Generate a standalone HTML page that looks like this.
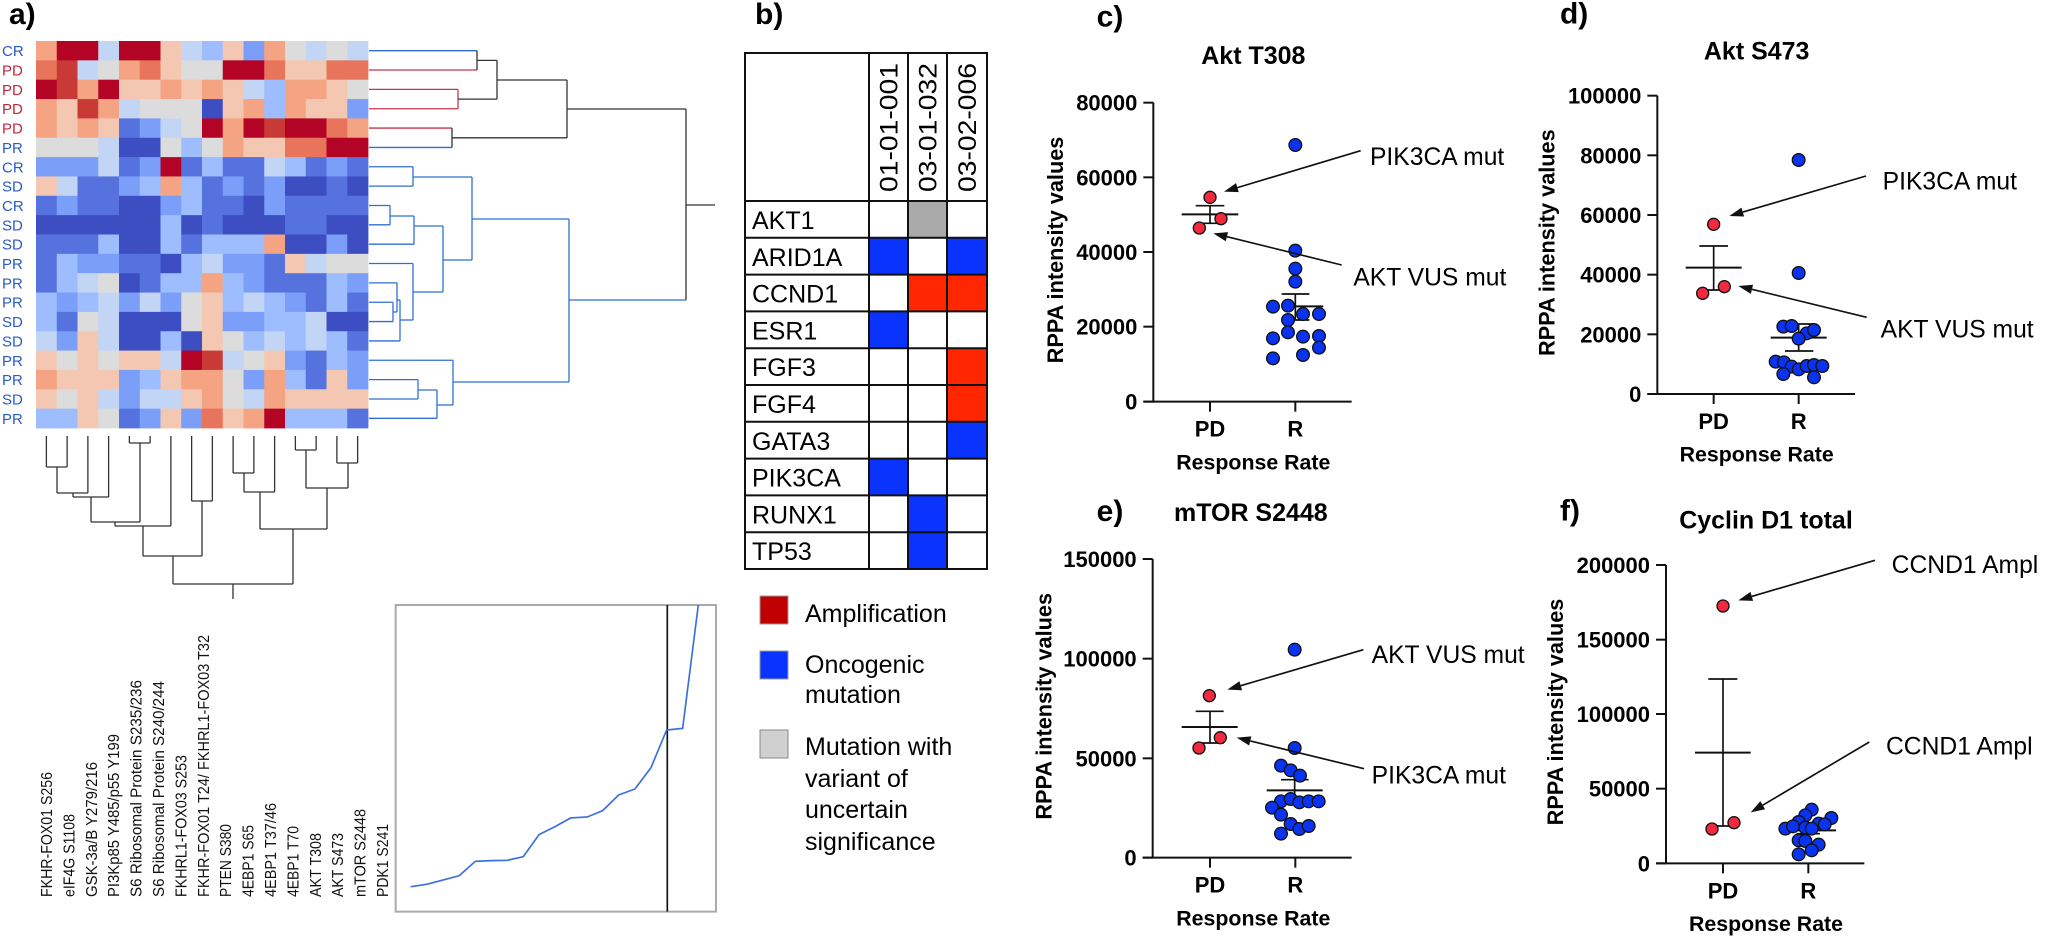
<!DOCTYPE html>
<html><head><meta charset="utf-8"><style>
html,body{margin:0;padding:0;background:#fff;}
svg{display:block;}
text{font-family:"Liberation Sans",Arial,sans-serif;}
</style></head><body>
<svg id="s" width="2048" height="937" viewBox="0 0 2048 937" xmlns="http://www.w3.org/2000/svg"></svg>
<script>
var o='';
var pal={R:'#b40426',r:'#c93a37',o:'#e7745b',p:'#f4a383',q:'#f3c7b1',n:'#dddcdc',l:'#c3d5f4',b:'#9dbdff',m:'#7b9ff9',B:'#5572df',D:'#3c4ec2'};
var rows=["pRRlRRqlbqmpnlnl","orlnpoqnnRRoqqoo","RrpRqqpqpqlbppqn","pqrplnnnDqpbpqqm","pqpqBmlnRpRrRRop","nnnlDDnbnpqqooRR","mmmlBmRBbBBlbBmB","qlBBmbpbBmBmDDBD","BmBBDDmbBBDmBBBB","DDDDDDbDBDDDBBDD","BBBbDDbBbbbpDDmD","BbmmBBDblmmBqlnn","BblnDBbbpbmBBBbm","bmblmlmnqblbmBbB","bBnlDDDnqmmbblDD","lmqlDDbDqnblblbB","qnqnqqlRrlnqmBbm","pqqqmbqppnmpbBqm","qnqlmllqpnlpqqqq","bbqnBmqmoqpRbbbB"];
var labs=["CR","PD","PD","PD","PD","PR","CR","SD","CR","SD","SD","PR","PR","PR","SD","SD","PR","PR","SD","PR"];
var hx=36,hy=41,cw=332/16,rh=387/20;
rows.forEach(function(r,i){for(var j=0;j<16;j++){o+='<rect x="'+(hx+j*cw).toFixed(2)+'" y="'+(hy+i*rh).toFixed(2)+'" width="'+(cw+0.4).toFixed(2)+'" height="'+(rh+0.4).toFixed(2)+'" fill="'+pal[r[j]]+'"/>';}
 var c=labs[i]=='PD'?'#c0283a':'#2a5bc4';
 o+='<text x="2" y="'+(hy+i*rh+rh/2+5.5).toFixed(1)+'" font-size="15" fill="'+c+'" font-family="DejaVu Sans">'+labs[i]+'</text>';});
function ry(i){return hy+rh*(i+0.5);}
function L(x1,y1,x2,y2,c,w){o+='<line x1="'+x1+'" y1="'+y1+'" x2="'+x2+'" y2="'+y2+'" stroke="'+(c||'#222')+'" stroke-width="'+(w||1.3)+'"/>';}
var BL='#2f6fd3',RD='#c8344a',BK='#333';
function leaf(i,x,c){L(369,ry(i),x,ry(i),c);}
leaf(0,477,BL);leaf(1,477,RD);L(477,ry(0),477,ry(1),BK);
leaf(2,458,RD);leaf(3,458,RD);L(458,ry(2),458,ry(3),RD);
L(477,60.4,497,60.4,BK);L(458,99.1,497,99.1,BK);L(497,60.4,497,99.1,BK);
leaf(4,452,RD);leaf(5,452,BL);L(452,ry(4),452,ry(5),BK);
L(497,80,567,80,BK);L(452,137.8,567,137.8,BK);L(567,80,567,138,BK);
L(567,109,686,109,BK);L(686,109,686,300,BK);L(686,205,715,205,BK);
leaf(6,413,BL);leaf(7,413,BL);L(413,ry(6),413,ry(7),BL);
leaf(8,390,BL);leaf(9,390,BL);L(390,ry(8),390,ry(9),BL);
L(390,216,414,216,BL);leaf(10,414,BL);L(414,216,414,ry(10),BL);
leaf(12,397,BL);leaf(13,393,BL);leaf(14,393,BL);L(393,ry(13),393,ry(14),BL);
L(393,312,397,312,BL);L(397,ry(12),397,312,BL);leaf(15,400,BL);L(397,300,400,300,BL);L(400,300,400,ry(15),BL);
leaf(11,413,BL);L(400,320,413,320,BL);L(413,ry(11),413,320,BL);
L(414,226,443,226,BL);L(413,292,443,292,BL);L(443,226,443,292,BL);
L(413,177,472,177,BL);L(443,260,472,260,BL);L(472,177,472,260,BL);
leaf(17,418,BL);leaf(18,418,BL);L(418,ry(17),418,ry(18),BL);
L(418,390,437,390,BL);leaf(19,437,BL);L(437,390,437,ry(19),BL);
leaf(16,453,BL);L(437,405,453,405,BL);L(453,ry(16),453,405,BL);
L(472,219,569,219,BL);L(453,382,569,382,BL);L(569,219,569,382,BL);L(569,300,686,300,BL);
function cx(j){return hx+cw*(j+0.5);}
var dtop=436;
function st(j,y){L(cx(j),dtop,cx(j),y,BK);}
st(0,467);st(1,467);L(cx(0),467,cx(1),467,BK);
L(57,467,57,493,BK);st(2,493);L(57,493,cx(2),493,BK);
L(73,493,73,497,BK);st(3,497);L(73,497,cx(3),497,BK);
st(4,443);st(5,443);L(cx(4),443,cx(5),443,BK);
L(91,497,91,522,BK);L(140,443,140,522,BK);L(91,522,140,522,BK);
L(115,522,115,526,BK);st(6,526);L(115,526,cx(6),526,BK);
st(7,501);st(8,501);L(cx(7),501,cx(8),501,BK);
L(143,526,143,556,BK);L(202,501,202,556,BK);L(143,556,202,556,BK);
st(9,473);st(10,473);L(cx(9),473,cx(10),473,BK);
L(244,473,244,492,BK);st(11,492);L(244,492,cx(11),492,BK);
st(12,450);st(13,450);L(cx(12),450,cx(13),450,BK);
st(14,463);st(15,463);L(cx(14),463,cx(15),463,BK);
L(306,450,306,488,BK);L(348,463,348,488,BK);L(306,488,348,488,BK);
L(260,492,260,529,BK);L(327,488,327,529,BK);L(260,529,327,529,BK);
L(173,556,173,584,BK);L(293,529,293,584,BK);L(173,584,293,584,BK);L(233,584,233,599,BK);
var bl=[["FKHR-FOX01 S256",125],["eIF4G S1108",83],["GSK-3a/B Y279/216",135],["PI3Kp85 Y485/p55 Y199",163],["S6 Ribosomal Protein S235/236",217],["S6 Ribosomal Protein S240/244",216],["FKHRL1-FOX03 S253",142],["FKHR-FOX01 T24/ FKHRL1-FOX03 T32",262],["PTEN S380",73],["4EBP1 S65",72],["4EBP1 T37/46",94],["4EBP1 T70",71],["AKT T308",64],["AKT S473",64],["mTOR S2448",88],["PDK1 S241",73]];
bl.forEach(function(b,i){var x=52+i*22.4;o+='<text transform="translate('+x.toFixed(1)+',897) rotate(-90)" font-size="16" fill="#111" font-family="DejaVu Sans" textLength="'+b[1]+'" lengthAdjust="spacingAndGlyphs">'+b[0]+'</text>';});
o+='<g transform="translate(390,600) scale(0.3333)"><rect x="17" y="15" width="961" height="920" fill="none" stroke="#aaa" stroke-width="6"/><line x1="832" y1="15" x2="832" y2="935" stroke="#111" stroke-width="5"/><polyline fill="none" stroke="#3a6fe0" stroke-width="5" points="62,860 110,853 160,840 208,827 256,784 304,782 352,781 400,770 447,704 495,680 542,654 592,651 638,632 686,585 735,567 783,503 830,390 878,385 925,15"/></g>';
o+='<text x="9" y="24" font-size="30" font-weight="bold">a)</text><text x="755" y="24" font-size="30" font-weight="bold">b)</text>';
var tx=745,tc=[869,908,947,987],t0=53,th=201,rhh=36.8;
var genes=["AKT1","ARID1A","CCND1","ESR1","FGF3","FGF4","GATA3","PIK3CA","RUNX1","TP53"];
var cells=["0g0","b0b","0rr","b00","00r","00r","00b","b00","0b0","0b0"];
var cc={b:'#0a33ff',r:'#ff2600',g:'#aaaaaa'};
genes.forEach(function(g,i){var y=th+i*rhh;for(var j=0;j<3;j++){var k=cells[i][j];if(k!='0')o+='<rect x="'+tc[j]+'" y="'+y.toFixed(1)+'" width="'+(tc[j+1]-tc[j])+'" height="'+rhh+'" fill="'+cc[k]+'"/>';}
 o+='<text x="752" y="'+(y+28).toFixed(1)+'" font-size="25">'+g+'</text>';});
var bot=th+10*rhh;
o+='<rect x="'+tx+'" y="'+t0+'" width="'+(987-tx)+'" height="'+(bot-t0)+'" fill="none" stroke="#111" stroke-width="2"/>';
tc.slice(0,3).forEach(function(x){L(x,t0,x,bot,'#111',2);});
for(var i=0;i<10;i++){L(tx,th+i*rhh,987,th+i*rhh,'#111',2);}
["01-01-001","03-01-032","03-02-006"].forEach(function(s,j){var x=(tc[j]+tc[j+1])/2+9;o+='<text transform="translate('+x+',192) rotate(-90)" font-size="25" textLength="129" lengthAdjust="spacingAndGlyphs">'+s+'</text>';});
o+='<rect x="760" y="596" width="28" height="28" fill="#c00000" stroke="#999"/><rect x="760" y="651" width="28" height="28" fill="#0a33ff" stroke="#999"/><rect x="760" y="730" width="28" height="28" fill="#d0d0d0" stroke="#888"/>';
[["Amplification",622],["Oncogenic",673],["mutation",703],["Mutation with",755],["variant of",787],["uncertain",818],["significance",850]].forEach(function(t){o+='<text x="805" y="'+t[1]+'" font-size="25">'+t[0]+'</text>';});
function arrow(x1,y1,x2,y2){var dx=x2-x1,dy=y2-y1,d=Math.sqrt(dx*dx+dy*dy),ux=dx/d,uy=dy/d,bx=x2-ux*42,by=y2-uy*42;
 return '<line x1="'+x1+'" y1="'+y1+'" x2="'+bx.toFixed(1)+'" y2="'+by.toFixed(1)+'" stroke="#111" stroke-width="5"/><polygon points="'+x2+','+y2+' '+(bx-uy*14).toFixed(1)+','+(by+ux*14).toFixed(1)+' '+(bx+uy*14).toFixed(1)+','+(by-ux*14).toFixed(1)+'" fill="#111"/>';}
function panel(p){var s='<g transform="translate('+p.ox+','+p.oy+') scale(0.33333)">';
 s+='<line x1="'+p.ax+'" y1="'+p.ticks[0]+'" x2="'+p.ax+'" y2="'+p.y0+'" stroke="#111" stroke-width="6"/>';
 s+='<line x1="'+(p.ax-30)+'" y1="'+p.y0+'" x2="'+p.xe+'" y2="'+p.y0+'" stroke="#111" stroke-width="6"/>';
 p.ticks.forEach(function(t,i){s+='<line x1="'+(p.ax-30)+'" y1="'+t+'" x2="'+p.ax+'" y2="'+t+'" stroke="#111" stroke-width="6"/><text x="'+(p.ax-48)+'" y="'+(t+24)+'" font-size="66" font-weight="bold" text-anchor="end">'+p.tl[i]+'</text>';});
 [p.pd,p.r].forEach(function(x,i){s+='<line x1="'+x+'" y1="'+p.y0+'" x2="'+x+'" y2="'+(p.y0+30)+'" stroke="#111" stroke-width="6"/><text x="'+x+'" y="'+(p.y0+105)+'" font-size="66" font-weight="bold" text-anchor="middle">'+(i?'R':'PD')+'</text>';});
 s+='<text x="'+p.cx+'" y="'+(p.y0+203)+'" font-size="64" font-weight="bold" text-anchor="middle">Response Rate</text>';
 s+='<text x="'+p.tx+'" y="'+p.ty+'" font-size="75" font-weight="bold" text-anchor="'+(p.ta||'middle')+'">'+p.title+'</text>';
 s+='<text transform="translate('+(p.ylx+24)+','+p.yly+') rotate(-90)" font-size="66" font-weight="bold" text-anchor="middle" textLength="680" lengthAdjust="spacingAndGlyphs">RPPA intensity values</text>';
 s+='<text x="'+p.lx+'" y="'+p.ly+'" font-size="90" font-weight="bold">'+p.lab+'</text>';
 p.err.forEach(function(e){s+='<line x1="'+e[0]+'" y1="'+e[1]+'" x2="'+e[2]+'" y2="'+e[1]+'" stroke="#111" stroke-width="6"/><line x1="'+e[3]+'" y1="'+e[4]+'" x2="'+e[3]+'" y2="'+e[5]+'" stroke="#111" stroke-width="5"/><line x1="'+e[6]+'" y1="'+e[4]+'" x2="'+e[7]+'" y2="'+e[4]+'" stroke="#111" stroke-width="5"/><line x1="'+e[6]+'" y1="'+e[5]+'" x2="'+e[7]+'" y2="'+e[5]+'" stroke="#111" stroke-width="5"/>';});
 p.red.forEach(function(c){s+='<circle cx="'+c[0]+'" cy="'+c[1]+'" r="18" fill="#f2293f" stroke="#111" stroke-width="4"/>';});
 p.blue.forEach(function(c){s+='<circle cx="'+c[0]+'" cy="'+c[1]+'" r="19" fill="#0a33f0" stroke="#111" stroke-width="4"/>';});
 p.ann.forEach(function(a){s+='<text x="'+a[0]+'" y="'+a[1]+'" font-size="74">'+a[2]+'</text>'+arrow(a[3],a[4],a[5],a[6]);});
 return s+'</g>';}
o+=panel({ox:1020,oy:0,ax:400,y0:1205,xe:995,ticks:[308,532,756,980,1205],tl:["80000","60000","40000","20000","0"],pd:570,r:826,cx:700,title:"Akt T308",tx:700,ty:192,ylx:105,yly:750,lab:"c)",lx:230,ly:80,
 err:[[485,643,655,570,617,670,527,613],[800,919,910,826,882,960,785,868]],
 red:[[570,592],[603,656],[538,684]],
 blue:[[826,435],[826,752],[826,806],[826,845],[759,920],[804,917],[849,942],[897,942],[804,960],[804,997],[849,1010],[897,1008],[759,1015],[897,1043],[759,1075],[849,1065]],
 ann:[[1050,495,"PIK3CA mut",1022,452,612,575],[1000,857,"AKT VUS mut",965,795,580,700]]});
o+=panel({ox:1530,oy:0,ax:382,y0:1182,xe:975,ticks:[287,466,645,824,1003,1182],tl:["100000","80000","60000","40000","20000","0"],pd:551,r:806,cx:680,title:"Akt S473",tx:680,ty:178,ylx:50,yly:728,lab:"d)",lx:90,ly:70,
 err:[[467,803,635,551,738,870,508,594],[722,1013,890,806,972,1053,765,850]],
 red:[[551,673],[583,860],[518,880]],
 blue:[[806,480],[806,819],[760,980],[785,978],[830,1000],[852,990],[806,1016],[737,1085],[762,1087],[785,1100],[806,1108],[830,1098],[852,1095],[877,1098],[760,1122],[852,1132]],
 ann:[[1058,568,"PIK3CA mut",1008,528,598,648],[1052,1012,"AKT VUS mut",1010,952,625,858]]});
o+=panel({ox:1020,oy:467,ax:398,y0:1172,xe:995,ticks:[276,575,874,1172],tl:["150000","100000","50000","0"],pd:570,r:826,cx:700,title:"mTOR S2448",tx:462,ty:162,ta:"start",ylx:70,yly:718,lab:"e)",lx:230,ly:162,
 err:[[485,780,653,570,733,828,527,611],[740,970,908,824,938,1000,783,866]],
 red:[[568,686],[601,812],[537,843]],
 blue:[[824,548],[824,843],[783,896],[812,910],[840,926],[783,1003],[812,996],[838,1006],[866,1003],[896,1003],[756,1022],[783,1043],[812,1071],[838,1086],[866,1077],[783,1100]],
 ann:[[1055,588,"AKT VUS mut",1030,548,622,668],[1055,950,"PIK3CA mut",1032,905,650,812]]});
o+=panel({ox:1530,oy:467,ax:408,y0:1189,xe:1003,ticks:[294,518,741,965,1189],tl:["200000","150000","100000","50000","0"],pd:579,r:835,cx:708,title:"Cyclin D1 total",tx:708,ty:185,ylx:75,yly:735,lab:"f)",lx:90,ly:160,
 err:[[495,857,662,579,636,1077,535,622],[790,1090,918,835,1080,1100,800,870]],
 red:[[579,417],[612,1067],[546,1086]],
 blue:[[845,1028],[826,1045],[806,1065],[904,1053],[866,1070],[884,1072],[766,1085],[789,1078],[826,1082],[845,1085],[806,1120],[826,1122],[866,1133],[845,1150],[806,1162]],
 ann:[[1085,318,"CCND1 Ampl",1035,280,625,400],[1068,862,"CCND1 Ampl",1018,825,662,1036]]});
document.getElementById('s').innerHTML=o;
</script>
</body></html>
